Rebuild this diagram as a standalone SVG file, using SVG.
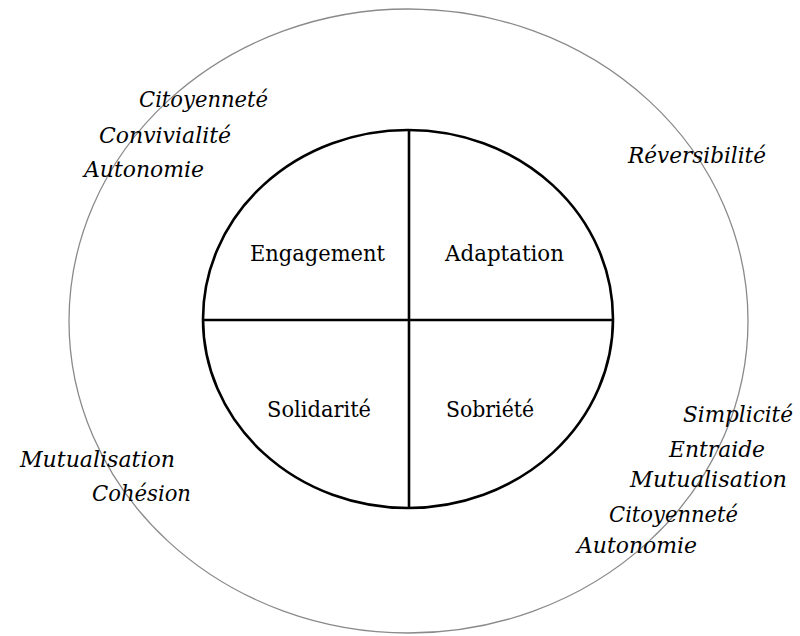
<svg xmlns="http://www.w3.org/2000/svg" width="800" height="636" viewBox="0 0 800 636">
<style>
  .lbl { font-family: "DejaVu Serif", "Liberation Serif", serif; font-size: 22.5px; fill: #000; }
  .it { font-family: "DejaVu Serif", "Liberation Serif", serif; font-size: 22.5px; font-style: italic; fill: #000; }
  .outer { fill: none; stroke: #8a8a8a; stroke-width: 1.3; }
  .inner { fill: none; stroke: #000; stroke-width: 2.6; }
</style>
<rect x="0" y="0" width="800" height="636" fill="#fff"/>
<g id="outer-ring">
  <ellipse class="outer" cx="408.5" cy="321" rx="339.5" ry="312"/>
</g>
<g id="inner-circle">
  <ellipse class="inner" cx="408" cy="319" rx="205" ry="189"/>
</g>
<g id="connectors">
  <line class="inner" x1="409" y1="130" x2="409" y2="508"/>
  <line class="inner" x1="203" y1="320" x2="613" y2="320"/>
</g>
<g id="engagement"><text class="lbl" x="250" y="261" textLength="135" lengthAdjust="spacingAndGlyphs">Engagement</text></g>
<g id="adaptation"><text class="lbl" x="445" y="261" textLength="119" lengthAdjust="spacingAndGlyphs">Adaptation</text></g>
<g id="solidarite"><text class="lbl" x="267" y="417" textLength="104" lengthAdjust="spacingAndGlyphs">Solidarité</text></g>
<g id="sobriete"><text class="lbl" x="446" y="417" textLength="88" lengthAdjust="spacingAndGlyphs">Sobriété</text></g>
<g id="top-left-values">
  <text class="it" x="139" y="107" textLength="129" lengthAdjust="spacingAndGlyphs">Citoyenneté</text>
  <text class="it" x="99" y="143" textLength="132" lengthAdjust="spacingAndGlyphs">Convivialité</text>
  <text class="it" x="84" y="177" textLength="120" lengthAdjust="spacingAndGlyphs">Autonomie</text>
</g>
<g id="top-right-values">
  <text class="it" x="628" y="163" textLength="138" lengthAdjust="spacingAndGlyphs">Réversibilité</text>
</g>
<g id="bottom-left-values">
  <text class="it" x="20" y="467" textLength="155" lengthAdjust="spacingAndGlyphs">Mutualisation</text>
  <text class="it" x="92" y="501" textLength="99" lengthAdjust="spacingAndGlyphs">Cohésion</text>
</g>
<g id="bottom-right-values">
  <text class="it" x="683" y="422" textLength="110" lengthAdjust="spacingAndGlyphs">Simplicité</text>
  <text class="it" x="669" y="457" textLength="96" lengthAdjust="spacingAndGlyphs">Entraide</text>
  <text class="it" x="630" y="487" textLength="157" lengthAdjust="spacingAndGlyphs">Mutualisation</text>
  <text class="it" x="609" y="522" textLength="129" lengthAdjust="spacingAndGlyphs">Citoyenneté</text>
  <text class="it" x="577" y="553" textLength="120" lengthAdjust="spacingAndGlyphs">Autonomie</text>
</g>
</svg>
